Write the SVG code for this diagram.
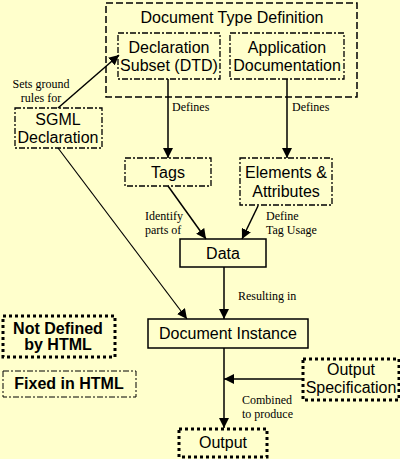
<svg xmlns="http://www.w3.org/2000/svg" width="400" height="459" viewBox="0 0 400 459">
<defs>
<marker id="ah" viewBox="0 0 10 10" refX="10" refY="5" markerWidth="10" markerHeight="10" markerUnits="userSpaceOnUse" orient="auto">
<path d="M0,0 L10,5 L0,10 Z" fill="#000"/>
</marker>
<style>
.sans{font-family:"Liberation Sans",Arial,sans-serif;font-size:16px;fill:#000;text-anchor:middle}
.bold{font-weight:bold}
.ser{font-family:"Liberation Serif","Times New Roman",serif;font-size:12px;fill:#000}
.dd{fill:none;stroke:#000;stroke-width:1.3;stroke-dasharray:6,2,2,2}
.outer{fill:none;stroke:#000;stroke-width:1.5;stroke-dasharray:7,3}
.dot{fill:none;stroke:#000;stroke-width:3;stroke-dasharray:3,3}
.solid{fill:none;stroke:#000;stroke-width:1.5}
.ln{fill:none;stroke:#000;stroke-width:1.5;marker-end:url(#ah)}
</style>
</defs>
<rect width="400" height="459" fill="#FFFFCC"/>
<g id="connectors">
<line class="ln" x1="168" y1="79" x2="168" y2="158"/>
<line class="ln" x1="287" y1="79" x2="287" y2="158"/>
<line class="ln" x1="58" y1="108" x2="119" y2="55"/>
<line class="ln" x1="58" y1="148" x2="187" y2="319" style="stroke-width:1.2"/>
<line class="ln" x1="168" y1="186" x2="206" y2="239"/>
<line class="ln" x1="258" y1="206" x2="242" y2="239"/>
<line class="ln" x1="224" y1="267" x2="224" y2="319"/>
<line class="ln" x1="224" y1="348" x2="224" y2="428"/>
<line class="ln" x1="303" y1="379" x2="224" y2="379"/>
<text class="ser" x="41" y="88" text-anchor="middle">Sets ground</text>
<text class="ser" x="41" y="102" text-anchor="middle">rules for</text>
<text class="ser" x="172" y="111">Defines</text>
<text class="ser" x="292" y="111">Defines</text>
<text class="ser" x="145" y="220">Identify</text>
<text class="ser" x="145" y="234">parts of</text>
<text class="ser" x="266" y="220">Define</text>
<text class="ser" x="266" y="234">Tag Usage</text>
<text class="ser" x="238" y="300">Resulting in</text>
<text class="ser" x="242" y="404">Combined</text>
<text class="ser" x="242" y="418">to produce</text>
</g>
<g id="dtd">
<rect class="outer" x="106" y="3" width="251" height="94"/>
<text class="sans" x="232" y="23">Document Type Definition</text>
</g>
<g id="declsubset">
<rect class="dd" x="118" y="33" width="102" height="46"/>
<text class="sans" x="169" y="53">Declaration</text>
<text class="sans" x="169" y="71">Subset (DTD)</text>
</g>
<g id="appdoc">
<rect class="dd" x="230" y="33" width="114" height="46"/>
<text class="sans" x="287" y="53">Application</text>
<text class="sans" x="287" y="71">Documentation</text>
</g>
<g id="sgml">
<rect class="dd" x="15" y="108" width="87" height="40"/>
<text class="sans" x="58" y="125">SGML</text>
<text class="sans" x="58" y="143">Declaration</text>
</g>
<g id="tags">
<rect class="dd" x="125" y="158" width="86" height="28"/>
<text class="sans" x="168" y="178">Tags</text>
</g>
<g id="elements">
<rect class="dd" x="240" y="158" width="92" height="47"/>
<text class="sans" x="286" y="178">Elements &amp;</text>
<text class="sans" x="286" y="197">Attributes</text>
</g>
<g id="data">
<rect class="solid" x="180" y="239" width="86" height="28"/>
<text class="sans" x="223" y="259">Data</text>
</g>
<g id="docinstance">
<rect class="solid" x="148" y="319" width="160" height="29"/>
<text class="sans" x="228" y="339">Document Instance</text>
</g>
<g id="notdefined">
<rect class="dot" x="3" y="316" width="112" height="41"/>
<text class="sans bold" x="58" y="334">Not Defined</text>
<text class="sans bold" x="58" y="350">by HTML</text>
</g>
<g id="fixed">
<rect class="dd" x="3" y="371" width="133" height="26" style="stroke-width:1"/>
<text class="sans bold" x="69" y="389">Fixed in HTML</text>
</g>
<g id="outputspec">
<rect class="dot" x="303" y="359" width="96" height="41"/>
<text class="sans" x="351" y="375">Output</text>
<text class="sans" x="351" y="393">Specification</text>
</g>
<g id="output">
<rect class="dot" x="179" y="429" width="88" height="28"/>
<text class="sans" x="223" y="448">Output</text>
</g>
</svg>
